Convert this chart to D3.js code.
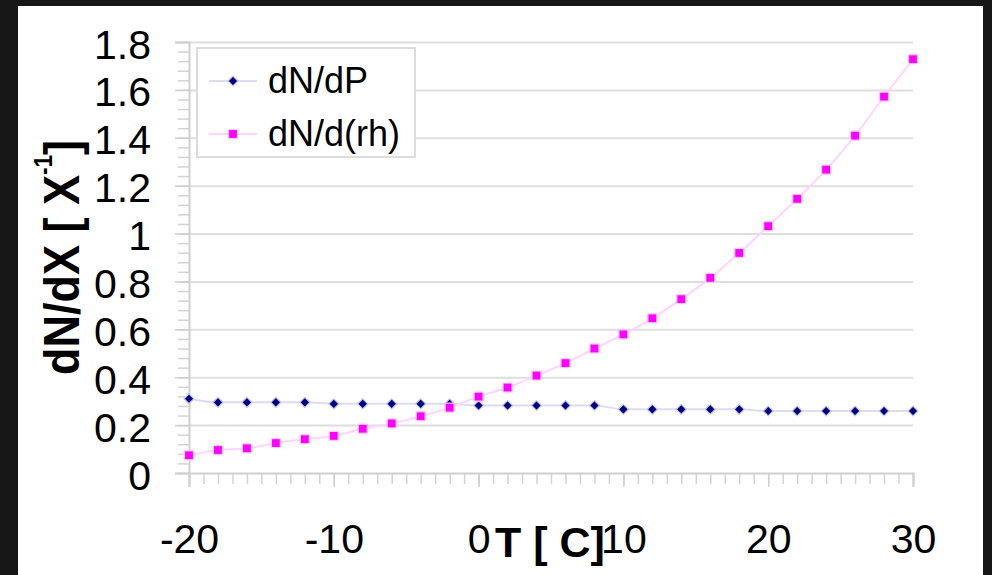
<!DOCTYPE html>
<html>
<head>
<meta charset="utf-8">
<script src="https://cdn.jsdelivr.net/npm/d3@7.9.0/dist/d3.min.js"></script>
<style>
  html, body { margin: 0; padding: 0; background: #171717; }
  svg { display: block; font-family: "Liberation Sans", Arial, sans-serif; }
</style>
</head>
<body>
<svg id="chart" width="992" height="575"></svg>
<script>
// temperature steps (x) and the two series
const temps = [-20, -18, -16, -14, -12, -10, -8, -6, -4, -2, 0, 2, 4, 6, 8, 10, 12, 14, 16, 18, 20, 22, 24, 26, 28, 30];
const dNdP = [0.31, 0.295, 0.295, 0.295, 0.295, 0.289, 0.289, 0.289, 0.289, 0.289, 0.282, 0.282, 0.282, 0.282, 0.282,
              0.266, 0.266, 0.266, 0.266, 0.266, 0.259, 0.259, 0.259, 0.259, 0.259, 0.259];
const dNdRh = [0.074, 0.096, 0.103, 0.125, 0.141, 0.155, 0.185, 0.207, 0.237, 0.273, 0.319, 0.357, 0.407,
               0.459, 0.52, 0.579, 0.646, 0.726, 0.815, 0.919, 1.031, 1.145, 1.267, 1.409, 1.572, 1.728];
const seriesNames = ['dN/dP', 'dN/d(rh)'];
const xTicks = [-20, -10, 0, 10, 20, 30];
const yTicks = [0, 0.2, 0.4, 0.6, 0.8, 1, 1.2, 1.4, 1.6, 1.8];

const svg = d3.select('#chart');

// white panel on the dark backdrop
svg.append('rect').attr('x', 18).attr('y', 6).attr('width', 965).attr('height', 580).attr('fill', '#fff');

const x = d3.scaleLinear().domain([-20, 30]).range([189, 913]);
const y = d3.scaleLinear().domain([0, 1.8]).range([473, 42]);

// gridlines
svg.append('g')
  .attr('transform', `translate(${x(-20)},0)`)
  .call(d3.axisLeft(y).tickValues(yTicks.slice(1)).tickSize(-(x(30) - x(-20))).tickFormat(''))
  .call(g => g.select('.domain').remove())
  .call(g => g.selectAll('line').attr('stroke', '#dedede').attr('stroke-width', 2));

// minor ticks
let yMinor = d3.range(0, 46).map(i => i * 0.04);
svg.append('g')
  .attr('transform', `translate(${x(-20)},0)`)
  .call(d3.axisLeft(y).tickValues(yMinor).tickSize(11).tickFormat(''))
  .call(g => g.select('.domain').remove())
  .call(g => g.selectAll('line').attr('stroke', '#d4d4d4').attr('stroke-width', 1.5));

let xMinor = d3.range(-20, 31);
svg.append('g')
  .attr('transform', `translate(0,${y(0)})`)
  .call(d3.axisBottom(x).tickValues(xMinor).tickSize(11).tickFormat(''))
  .call(g => g.select('.domain').remove())
  .call(g => g.selectAll('line').attr('stroke', '#d4d4d4').attr('stroke-width', 1.5));

// major ticks + labels (plain hyphen minus, like the original)
svg.append('g')
  .attr('transform', `translate(${x(-20)},0)`)
  .call(d3.axisLeft(y).tickValues(yTicks).tickSize(14).tickPadding(24).tickFormat(d => String(d)))
  .call(g => g.select('.domain').attr('stroke', '#d0d0d0').attr('stroke-width', 2))
  .call(g => g.selectAll('line').attr('stroke', '#cfcfcf').attr('stroke-width', 1.5))
  .call(g => g.selectAll('text').attr('fill', '#000').attr('font-size', 41).attr('dy', 16));

svg.append('g')
  .attr('transform', `translate(0,${y(0)})`)
  .call(d3.axisBottom(x).tickValues(xTicks).tickSize(14).tickPadding(37).tickFormat(d => String(d)))
  .call(g => g.select('.domain').attr('stroke', '#d0d0d0').attr('stroke-width', 2))
  .call(g => g.selectAll('line').attr('stroke', '#cfcfcf').attr('stroke-width', 1.5))
  .call(g => g.selectAll('text').attr('fill', '#000').attr('font-size', 41));

// series
const series = [
  { name: seriesNames[0], values: dNdP, color: '#000080', lineColor: '#dcdcf2', shape: 'diamond' },
  { name: seriesNames[1], values: dNdRh, color: '#ff00ff', lineColor: '#ffd4ff', shape: 'square' }
];

const line = d3.line()
  .x((d, i) => x(temps[i]))
  .y(d => y(d))
  .curve(d3.curveMonotoneX);

function drawMarker(g, shape, color) {
  if (shape === 'diamond') {
    g.append('path').attr('d', 'M0,-5L5,0L0,5L-5,0Z')
      .attr('fill', color).attr('stroke', '#c8c8ee').attr('stroke-width', 1.2);
  } else {
    g.append('rect').attr('x', -4.5).attr('y', -4.5).attr('width', 9).attr('height', 9)
      .attr('fill', color).attr('stroke', '#ffc8ff').attr('stroke-width', 1.2);
  }
}

series.forEach(s => {
  svg.append('path')
    .attr('d', line(s.values))
    .attr('fill', 'none')
    .attr('stroke', s.lineColor)
    .attr('stroke-width', 2);
});
series.forEach(s => {
  s.values.forEach((v, i) => {
    let g = svg.append('g').attr('transform', `translate(${x(temps[i])},${y(v)})`);
    drawMarker(g, s.shape, s.color);
  });
});

// legend
let legend = svg.append('g');
legend.append('rect').attr('x', 197).attr('y', 48).attr('width', 218).attr('height', 109)
  .attr('fill', '#fff').attr('stroke', '#dcdcdc').attr('stroke-width', 2);
series.forEach((s, i) => {
  let ly = 81 + i * 53;
  legend.append('line').attr('x1', 209).attr('x2', 257).attr('y1', ly).attr('y2', ly)
    .attr('stroke', s.lineColor).attr('stroke-width', 2);
  let g = legend.append('g').attr('transform', `translate(233,${ly})`);
  drawMarker(g, s.shape, s.color);
  legend.append('text').attr('x', 268).attr('y', ly + 12)
    .attr('font-size', 36).attr('fill', '#000').text(s.name);
});

// axis titles
svg.append('text')
  .attr('x', 550).attr('y', 557)
  .attr('text-anchor', 'middle')
  .attr('font-size', 43).attr('font-weight', 'bold')
  .text('T [ C]');

let yTitle = svg.append('text')
  .attr('transform', 'translate(79,375) rotate(-90)')
  .attr('font-size', 50).attr('font-weight', 'bold')
  .attr('textLength', 235).attr('lengthAdjust', 'spacingAndGlyphs');
yTitle.append('tspan').text('dN/dX [ X');
yTitle.append('tspan').attr('font-size', 25).attr('dy', -27).text('-1');
yTitle.append('tspan').attr('dy', 27).text(']');
</script>
</body>
</html>
